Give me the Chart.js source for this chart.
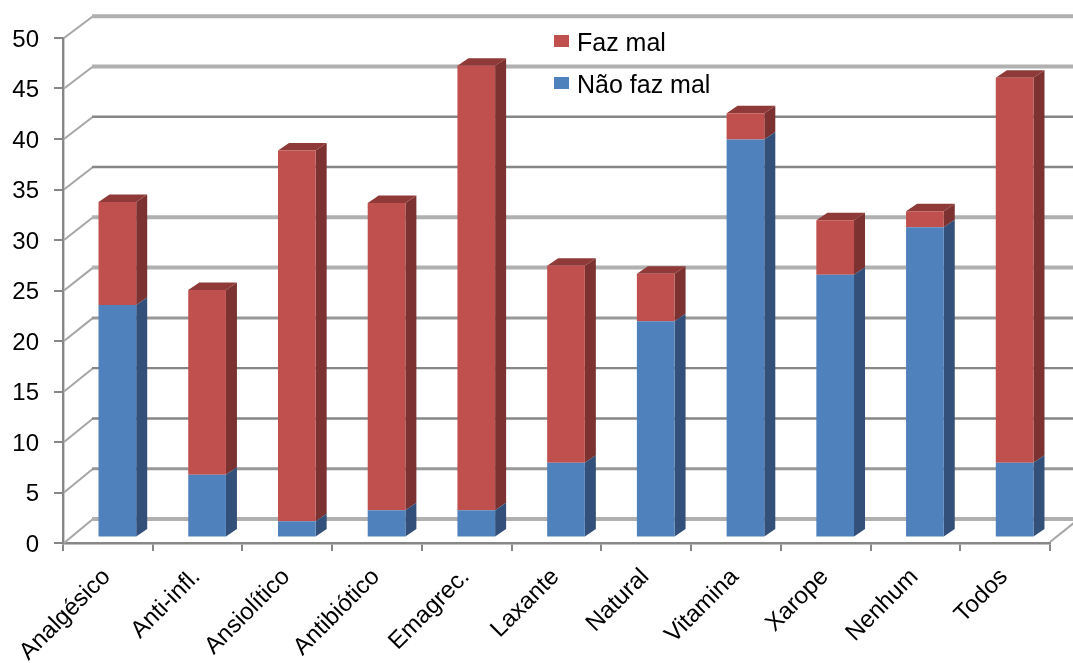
<!DOCTYPE html>
<html>
<head>
<meta charset="utf-8">
<style>html,body{margin:0;padding:0;background:#fff}canvas{display:block}</style>
<script src="https://cdn.jsdelivr.net/npm/chart.js@4/dist/chart.umd.min.js"></script>
</head>
<body>
<canvas id="c" width="1073" height="663"></canvas>
<script>
// Opinion survey by medicine type, stacked columns with a pseudo-3D box look.
const categories = ['Analgésico','Anti-infl.','Ansiolítico','Antibiótico','Emagrec.','Laxante','Natural','Vitamina','Xarope','Nenhum','Todos'];
const naoFazMal = [23.0,6.2,1.6,2.7,2.7,7.4,21.4,39.4,26.0,30.7,7.4];
const fazMal = [10.2,18.3,36.7,30.4,44.0,19.5,4.7,2.6,5.4,1.6,38.1];

const FONT = '"Liberation Sans", Arial, sans-serif';
const AXIS = '#868686';
const INK = '#000000';

// Extrusion of each column and the floor/back wall offsets, in pixels.
const BOX_DX = 11, BOX_DY = 7.5;
const BAR_SHIFT_X = 9.5, BAR_SHIFT_Y = 5.6;
const WALL_DX = 30;

const faces = {
  'Faz mal': {side:'#7b3230', top:'#8f3a38'},
  'Não faz mal': {side:'#325079', top:'#3d6290'}
};

// Back-wall line weight by axis value: light and wide, or dark and thin.
function wallStroke(value) {
  if ([50,45,30,25,0].includes(value)) return {color:'#b0b0b0', width:4};
  if (value === 20 || value === 5) return {color:'#989898', width:3};
  return {color:AXIS, width:2.4};
}

const boxPlugin = {
  id: 'box3d',
  beforeDatasetsDraw(chart) {
    const {ctx, chartArea, scales:{y}} = chart;
    ctx.save();
    const rightEdge = chartArea.right;
    y.ticks.forEach(t => {
      const fy = y.getPixelForValue(t.value);
      const wallDy = 24 - 2.2 * t.value / 50;
      const by = fy - wallDy;
      // Floor-to-wall diagonal on the left
      ctx.strokeStyle = '#a6a6a6';
      ctx.lineWidth = 2;
      ctx.beginPath();
      ctx.moveTo(chartArea.left + 1, fy);
      ctx.lineTo(chartArea.left + WALL_DX, by);
      ctx.stroke();
      // Back wall line
      const s = wallStroke(t.value);
      ctx.strokeStyle = s.color;
      ctx.lineWidth = s.width;
      ctx.beginPath();
      ctx.moveTo(chartArea.left + WALL_DX - 1, by);
      ctx.lineTo(rightEdge + WALL_DX, by);
      ctx.stroke();
    });
    // Diagonal at the right end of the floor
    const y0 = y.getPixelForValue(0);
    ctx.strokeStyle = '#a6a6a6';
    ctx.lineWidth = 2;
    ctx.beginPath();
    ctx.moveTo(rightEdge, y0 - 1);
    ctx.lineTo(rightEdge + WALL_DX, y0 - 25);
    ctx.stroke();
    ctx.restore();
  },
  beforeDatasetDraw(chart, args) {
    const {ctx} = chart;
    ctx.save();
    ctx.translate(BAR_SHIFT_X, -BAR_SHIFT_Y);
    const isTopOfStack = args.index === chart.data.datasets.length - 1;
    const tone = faces[chart.data.datasets[args.index].label];
    args.meta.data.forEach(bar => {
      const p = bar.getProps(['x','y','base','width'], true);
      const xr = p.x + p.width / 2, xl = p.x - p.width / 2;
      // Right-hand side of the box
      ctx.fillStyle = tone.side;
      ctx.beginPath();
      ctx.moveTo(xr, p.y);
      ctx.lineTo(xr + BOX_DX, p.y - BOX_DY);
      ctx.lineTo(xr + BOX_DX, p.base - BOX_DY);
      ctx.lineTo(xr, p.base);
      ctx.closePath();
      ctx.fill();
      // Lid, only visible on the uppermost segment
      if (isTopOfStack) {
        ctx.fillStyle = tone.top;
        ctx.beginPath();
        ctx.moveTo(xl, p.y);
        ctx.lineTo(xl + BOX_DX, p.y - BOX_DY);
        ctx.lineTo(xr + BOX_DX, p.y - BOX_DY);
        ctx.lineTo(xr, p.y);
        ctx.closePath();
        ctx.fill();
      }
    });
  },
  afterDatasetDraw(chart) {
    chart.ctx.restore();
  },
  afterDatasetsDraw(chart) {
    // Key inside the plot, top series first
    const {ctx} = chart;
    ctx.save();
    ctx.font = '25px ' + FONT;
    ctx.textBaseline = 'middle';
    ctx.textAlign = 'left';
    chart.data.datasets.slice().reverse().forEach((ds, i) => {
      const cy = 41 + i * 42;
      ctx.fillStyle = ds.backgroundColor;
      ctx.fillRect(554, cy - 6, 15, 12);
      ctx.fillStyle = INK;
      ctx.fillText(ds.label, 577, cy + 3);
    });
    ctx.restore();
  }
};

new Chart(document.getElementById('c'), {
  type: 'bar',
  data: {
    labels: categories,
    datasets: [
      {label:'Não faz mal', data:naoFazMal, backgroundColor:'#4f81bd', stack:'s', barPercentage:0.42, categoryPercentage:1},
      {label:'Faz mal', data:fazMal, backgroundColor:'#c0504d', stack:'s', barPercentage:0.42, categoryPercentage:1}
    ]
  },
  options: {
    responsive: false,
    animation: false,
    layout: {padding: {top: 38, right: 23, left: 0, bottom: 0}},
    plugins: {
      tooltip: {enabled: false},
      legend: {display: false}
    },
    scales: {
      x: {
        stacked: true,
        afterFit(s) { s.height = 120; },
        border: {color: AXIS, width: 2.4},
        grid: {drawOnChartArea: false, drawTicks: true, tickLength: 8, color: AXIS, lineWidth: 2},
        ticks: {color: INK, font: {family: FONT, size: 24}, minRotation: 45, maxRotation: 45, autoSkip: false, padding: 12, labelOffset: -1}
      },
      y: {
        stacked: true,
        min: 0, max: 50,
        afterFit(s) { s.width = 63; },
        border: {color: AXIS, width: 2.4},
        grid: {drawOnChartArea: false, drawTicks: true, tickLength: 9, color: AXIS, lineWidth: 2},
        ticks: {stepSize: 5, color: INK, font: {family: FONT, size: 24}, padding: 15, labelOffset: 2}
      }
    }
  },
  plugins: [boxPlugin]
});
</script>
</body>
</html>
